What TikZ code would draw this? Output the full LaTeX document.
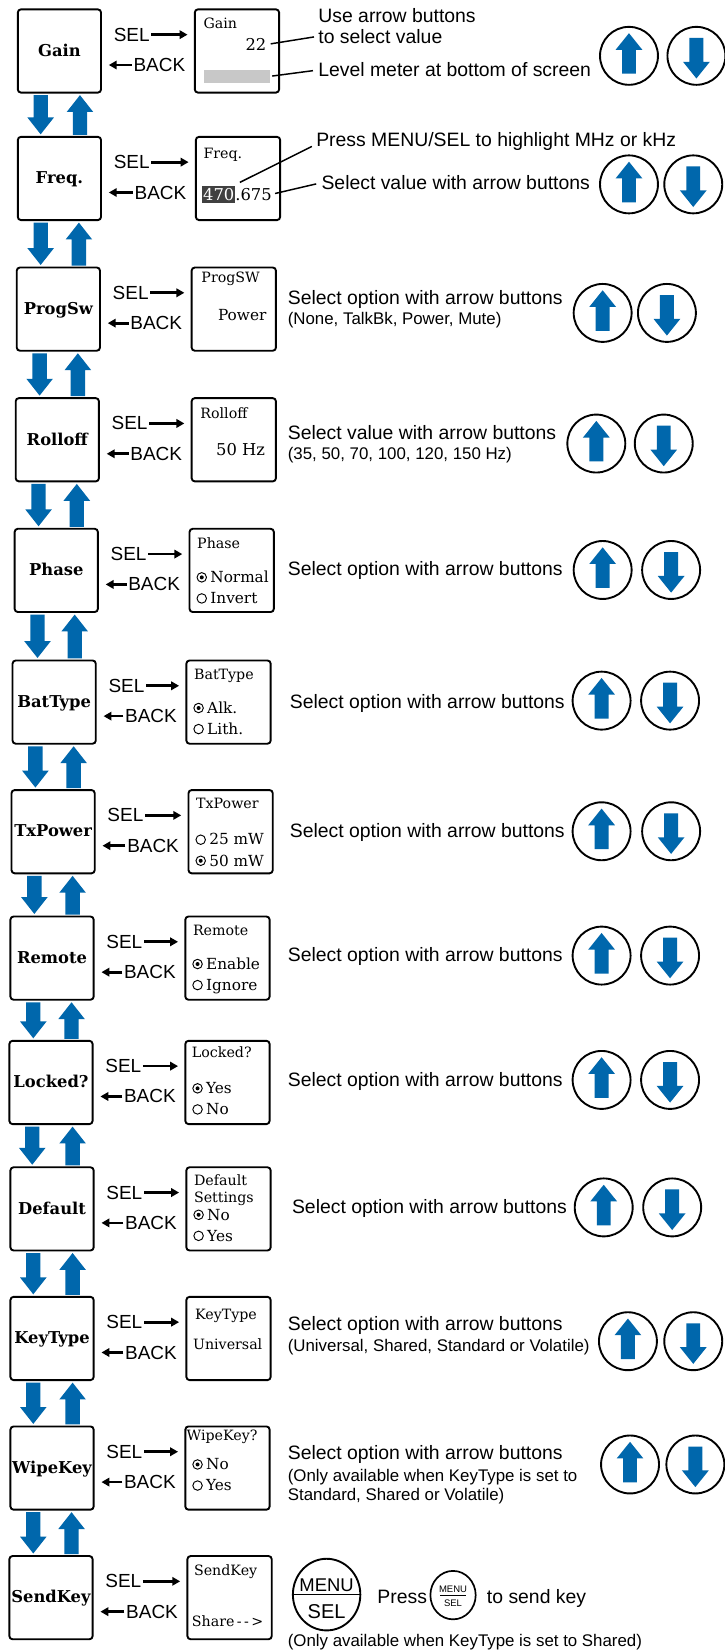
\documentclass[tikz,border=0pt]{standalone}
\usepackage{fontspec}
\setmainfont{Liberation Sans}
\newfontfamily\scr{DejaVu Serif}
\usetikzlibrary{arrows.meta,calc,shapes.geometric}
\definecolor{bblue}{RGB}{0,103,172}
\definecolor{meter}{RGB}{200,200,200}
\definecolor{hilite}{RGB}{64,64,64}
\tikzset{
 x=1pt,y=-1pt,
 menubox/.style={draw, line width=1.8pt, rounded corners=3pt, minimum width=79pt, minimum height=79pt, inner sep=0pt},
 screenbox/.style={menubox, minimum width=80pt},
 lbl/.style={inner sep=0pt, font=\scr\bfseries\fontsize{15.5}{17}\selectfont},
 navtext/.style={inner sep=0pt, font=\fontsize{18}{20}\selectfont},
 navarrow/.style={line width=2.6pt, -{Triangle[length=7.5pt,width=8pt]}, shorten <=1.5pt},
 ann/.style={inner sep=0pt, anchor=base west, font=\fontsize{18.4}{20}\selectfont},
 annsmall/.style={inner sep=0pt, anchor=base west, font=\fontsize{16}{18}\selectfont},
 sttl/.style={inner sep=0pt, anchor=base west, font=\scr\fontsize{13.5}{15}\selectfont},
 sopt/.style={inner sep=0pt, anchor=base west, font=\scr\fontsize{14.5}{16}\selectfont},
 sval/.style={inner sep=0pt, font=\scr\fontsize{15.5}{17}\selectfont},
 radio/.style={circle, draw, line width=0.9pt, minimum size=9pt, inner sep=0pt},
 radioon/.style={radio, path picture={\fill (path picture bounding box.center) circle (1.9pt);}},
 btn/.style={circle, draw, line width=1.8pt, minimum size=55pt, inner sep=0pt},
 ptr/.style={line width=1.4pt},
}
% menu row: id, label, box left, box top, screen left
\newcommand\mrow[5]{%
  \node[menubox, anchor=north west] (m#1) at (#3,#4) {};
  \node[lbl, anchor=base] (l#1) at ($(m#1.center)+(0,5)$) {#2};
  \node[screenbox, anchor=north west] (s#1) at (#5,#4) {};
  \node[navtext, anchor=base west] (sel#1) at ($(m#1.east)+(11,-9.3)$) {SEL};
  \node[navtext, anchor=base east] (back#1) at ($(s#1.west |- m#1.east)+(-8,19.5)$) {BACK};
  \draw[navarrow, shorten >=6pt] (sel#1.east) -- (sel#1.east -| s#1.west);
  \draw[navarrow, shorten >=6.5pt] (back#1.west) -- (back#1.west -| m#1.east);
}
% blue arrows between two menu boxes
\newcommand\gaparrows[2]{%
  \fill[bblue] let \p1=(m#1.south west), \p2=(m#2.north west) in
   (\x1+15.8pt,\y1-1.5pt) -- (\x1+29.4pt,\y1-1.5pt) -- (\x1+29.4pt,\y2+17.5pt)
   -- (\x1+35.2pt,\y2+17.5pt) -- (\x1+22.6pt,\y2+1.5pt) -- (\x1+10pt,\y2+17.5pt)
   -- (\x1+15.8pt,\y2+17.5pt) -- cycle;
  \fill[bblue] let \p1=(m#1.south west), \p2=(m#2.north west) in
   (\x2+59.9pt,\y1-1.5pt) -- (\x2+72.5pt,\y1-17.5pt) -- (\x2+66.7pt,\y1-17.5pt)
   -- (\x2+66.7pt,\y2+1pt) -- (\x2+53.1pt,\y2+1pt) -- (\x2+53.1pt,\y1-17.5pt)
   -- (\x2+47.3pt,\y1-17.5pt) -- cycle;
}
\newcommand\upbtn[3]{%
  \node[btn] (#1) at (#2,#3) {};
  \fill[bblue] ($(#1.center)+(0,-21.5)$) -- ++(12.7,15.8) -- ++(-6.1,0) -- ++(0,22.7)
    -- ++(-13.2,0) -- ++(0,-22.7) -- ++(-6.1,0) -- cycle;
}
\newcommand\dnbtn[3]{%
  \node[btn] (#1) at (#2,#3) {};
  \fill[bblue] ($(#1.center)+(0,21.5)$) -- ++(12.7,-15.8) -- ++(-6.1,0) -- ++(0,-22.7)
    -- ++(-13.2,0) -- ++(0,22.7) -- ++(-6.1,0) -- cycle;
}
% radio option: name, style, screen left, baseline, text
\newcommand\ropt[5]{%
  \node[#2] (r#1) at ({#3+12.5},{#4-5}) {};
  \node[sopt] (o#1) at ({#3+20.5},#4) {#5};
}
\begin{document}
\begin{tikzpicture}
\useasboundingbox[fill=white] (0,0) rectangle (688,1568);

\mrow{1}{Gain}{16}{8}{184}
\mrow{2}{Freq.}{16}{129}{185}
\mrow{3}{ProgSw}{15}{253}{181}
\mrow{4}{Rolloff}{14}{377}{181}
\mrow{5}{Phase}{13}{501}{179}
\mrow{6}{BatType}{11}{626}{176}
\mrow{7}{TxPower}{10}{749}{178}
\mrow{8}{Remote}{9}{869}{175}
\mrow{9}{Locked?}{8}{987}{175}
\mrow{10}{Default}{9}{1107}{176}
\mrow{11}{KeyType}{9}{1230}{176}
\mrow{12}{WipeKey}{9}{1353}{175}
\mrow{13}{SendKey}{8}{1476}{177}

\gaparrows{1}{2}
\gaparrows{2}{3}
\gaparrows{3}{4}
\gaparrows{4}{5}
\gaparrows{5}{6}
\gaparrows{6}{7}
\gaparrows{7}{8}
\gaparrows{8}{9}
\gaparrows{9}{10}
\gaparrows{10}{11}
\gaparrows{11}{12}
\gaparrows{12}{13}

% Row 1 : Gain
\node[sttl] (st1) at (193,27) {Gain};
\node[sval, anchor=base east] (v1) at (253,48) {22};
\node[fill=meter, inner sep=0pt, minimum width=63pt, minimum height=12.5pt, anchor=north west] (bar1) at (193,66) {};
\node[ann] (a1a) at (302,21) {Use arrow buttons};
\node[ann] (a1b) at (302,41) {to select value};
\node[ann] (a1c) at (302,73) {Level meter at bottom of screen};
\draw[ptr, shorten <=4pt, shorten >=4pt] (v1.east) -- (a1b.west);
\draw[ptr, shorten <=2pt, shorten >=5pt] (bar1.east) -- (a1c.west);
\upbtn{u1}{597}{53}
\dnbtn{d1}{661}{53}

% Row 2 : Freq.
\node[sttl] (st2) at (193,150) {Freq.};
\node[sval, fill=hilite, text=white, inner xsep=0.6pt, inner ysep=2.2pt, anchor=base west] (hl2) at (192,190) {470};
\node[sval, anchor=base west] (v2) at (hl2.base east) {.675};
\node[ann] (a2a) at (300,139) {Press MENU/SEL to highlight MHz or kHz};
\node[ann] (a2b) at (305,180) {Select value with arrow buttons};
\draw[ptr] ($(hl2.north east)+(4.5,-3)$) -- ($(a2a.base west)+(-4,0)$);
\draw[ptr, shorten <=3pt, shorten >=5pt] (v2.east) -- (a2b.west);
\upbtn{u2}{597}{175}
\dnbtn{d2}{658}{175}

% Row 3 : ProgSw
\node[sttl] (st3) at (191,268) {ProgSW};
\node[sopt, anchor=base east] (v3) at (253,304) {Power};
\node[ann] (a3a) at (273,289) {Select option with arrow buttons};
\node[annsmall] (a3b) at (273,308) {(None, TalkBk, Power, Mute)};
\upbtn{u3}{572}{297}
\dnbtn{d3}{633}{297}

% Row 4 : Rolloff
\node[sttl] (st4) at (190,397) {Rolloff};
\node[sval, anchor=base west] (v4) at (205,432) {50 Hz};
\node[ann] (a4a) at (273,417) {Select value with arrow buttons};
\node[annsmall] (a4b) at (273,436) {(35, 50, 70, 100, 120, 150 Hz)};
\upbtn{u4}{566}{421}
\dnbtn{d4}{630}{421}

% Row 5 : Phase
\node[sttl] (st5) at (187,521) {Phase};
\ropt{5a}{radioon}{179}{553}{Normal}
\ropt{5b}{radio}{179}{573}{Invert}
\node[ann] (a5) at (273,546) {Select option with arrow buttons};
\upbtn{u5}{572}{541}
\dnbtn{d5}{637}{541}

% Row 6 : BatType
\node[sttl] (st6) at (184,645) {BatType};
\ropt{6a}{radioon}{176}{677}{Alk.}
\ropt{6b}{radio}{176}{697}{Lith.}
\node[ann] (a6) at (275,672) {Select option with arrow buttons};
\upbtn{u6}{571}{665}
\dnbtn{d6}{636}{665}

% Row 7 : TxPower
\node[sttl] (st7) at (186,767) {TxPower};
\ropt{7a}{radio}{178}{802}{25 mW}
\ropt{7b}{radioon}{178}{822}{50 mW}
\node[ann] (a7) at (275,795) {Select option with arrow buttons};
\upbtn{u7}{571}{789}
\dnbtn{d7}{637}{789}

% Row 8 : Remote
\node[sttl] (st8) at (183,888) {Remote};
\ropt{8a}{radioon}{175}{920}{Enable}
\ropt{8b}{radio}{175}{940}{Ignore}
\node[ann] (a8) at (273,913) {Select option with arrow buttons};
\upbtn{u8}{571}{907}
\dnbtn{d8}{636}{907}

% Row 9 : Locked?
\node[sttl] (st9) at (182,1004) {Locked?};
\ropt{9a}{radioon}{175}{1038}{Yes}
\ropt{9b}{radio}{175}{1058}{No}
\node[ann] (a9) at (273,1031) {Select option with arrow buttons};
\upbtn{u9}{571}{1025}
\dnbtn{d9}{636}{1025}

% Row 10 : Default
\node[sttl] (st10a) at (184,1125) {Default};
\node[sttl] (st10b) at (184,1141) {Settings};
\ropt{10a}{radioon}{176}{1158}{No}
\ropt{10b}{radio}{176}{1178}{Yes}
\node[ann] (a10) at (277,1152) {Select option with arrow buttons};
\upbtn{u10}{573}{1146}
\dnbtn{d10}{638}{1146}

% Row 11 : KeyType
\node[sttl] (st11) at (185,1252) {KeyType};
\node[sttl] (v11) at (183,1281) {Universal};
\node[ann] (a11a) at (273,1263) {Select option with arrow buttons};
\node[annsmall] (a11b) at (273,1283) {(Universal, Shared, Standard or Volatile)};
\upbtn{u11}{596}{1273}
\dnbtn{d11}{658}{1273}

% Row 12 : WipeKey
\node[sttl] (st12) at (177,1367) {WipeKey?};
\ropt{12a}{radioon}{175}{1395}{No}
\ropt{12b}{radio}{175}{1415}{Yes}
\node[ann] (a12a) at (273,1385) {Select option with arrow buttons};
\node[annsmall] (a12b) at (273,1406) {(Only available when KeyType is set to};
\node[annsmall] (a12c) at (273,1424) {Standard, Shared or Volatile)};
\upbtn{u12}{598}{1390}
\dnbtn{d12}{660}{1390}

% Row 13 : SendKey
\node[sttl] (st13) at (184,1495) {SendKey};
\node[sttl] (v13) at (182,1544) {Share\,-\,-\,>};
\node[draw, ellipse, line width=1.8pt, minimum width=64pt, minimum height=68pt, inner sep=0pt] (bigms) at (310,1513.5) {};
\node[inner sep=0pt, anchor=base, font=\fontsize{17.5}{19}\selectfont] (bigmenu) at (310,1510.5) {MENU};
\node[inner sep=0pt, anchor=base, font=\fontsize{19}{20}\selectfont] (bigsel) at (310,1536) {SEL};
\draw[line width=1.6pt] (bigms.west) -- (bigms.east);
\node[ann] (a13a) at (358,1522) {Press};
\node[draw, ellipse, line width=1.6pt, minimum width=43pt, minimum height=46pt, inner sep=0pt] (smms) at (430,1514) {};
\node[inner sep=0pt, anchor=base, font=\fontsize{9}{10}\selectfont] (smmenu) at (430,1511.5) {MENU};
\node[inner sep=0pt, anchor=base, font=\fontsize{9}{10}\selectfont] (smsel) at (430,1524.5) {SEL};
\draw[line width=0.8pt] ($(smms.center)+(-12,0.5)$) -- ($(smms.center)+(12,0.5)$);
\node[ann] (a13b) at (462,1522) {to send key};
\node[annsmall] (a13c) at (273,1563) {(Only available when KeyType is set to Shared)};
\end{tikzpicture}
\end{document}
